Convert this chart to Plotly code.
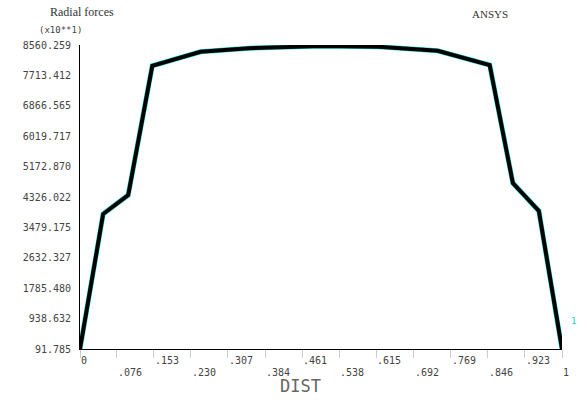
import plotly.graph_objects as go

# Radial force distribution along the path
dist = [0.0, 0.048, 0.100, 0.150, 0.250, 0.350, 0.500, 0.620, 0.742, 0.850, 0.898, 0.952, 1.0]
force = [91.785, 3852, 4380, 7980, 8370, 8470, 8530, 8510, 8400, 8000, 4716, 3937, 91.785]

x_ticks = [0, 0.076, 0.153, 0.230, 0.307, 0.384, 0.461, 0.538, 0.615, 0.692, 0.769, 0.846, 0.923, 1]
x_tick_text = ["0", ".076", ".153", ".230", ".307", ".384", ".461", ".538", ".615",
               ".692", ".769", ".846", ".923", "1"]
y_tick_text = ["91.785", "938.632", "1785.480", "2632.327", "3479.175", "4326.022",
               "5172.870", "6019.717", "6866.565", "7713.412", "8560.259"]
y_ticks = [float(t) for t in y_tick_text]

label_font = dict(family="DejaVu Sans Mono", size=10, color="#444444")

W, H = 587, 400
L, R, T, B = 80, 25, 45, 51
pw, ph = W - L - R, H - T - B


def px(xp):
    return (xp - L) / pw


def py(yp):
    return (H - B - yp) / ph


fig = go.Figure()
# faint cyan trace underneath the main curve
fig.add_trace(go.Scatter(x=dist, y=force, mode="lines",
                         line=dict(color="#22dddd", width=5), hoverinfo="skip"))
fig.add_trace(go.Scatter(x=dist, y=force, mode="lines",
                         line=dict(color="black", width=4)))

fig.update_xaxes(range=[0, 1], showgrid=False, zeroline=False,
                 showline=True, linecolor="black", linewidth=1,
                 tickvals=x_ticks, ticks="outside", ticklen=8, tickcolor="#cccccc",
                 showticklabels=False)
fig.update_yaxes(range=[y_ticks[0], y_ticks[-1]], showgrid=False, zeroline=False,
                 showline=True, linecolor="black", linewidth=1,
                 tickvals=y_ticks, ticktext=y_tick_text, ticks="",
                 tickfont=label_font, ticklabelstandoff=6)

annotations = []
for i, (v, t) in enumerate(zip(x_ticks, x_tick_text)):
    annotations.append(dict(x=v, y=0, xref="x", yref="paper", text=t,
                            showarrow=False, xanchor="left", yanchor="top",
                            yshift=-4 if i % 2 == 0 else -16, xshift=-1,
                            font=label_font))
annotations += [
    dict(x=px(300), y=py(386), xref="paper", yref="paper", text="DIST", showarrow=False,
         xanchor="center", yanchor="middle",
         font=dict(family="DejaVu Sans Mono", size=17, color="#666666")),
    dict(x=px(82), y=py(12), xref="paper", yref="paper", text="Radial forces",
         showarrow=False, xanchor="center", yanchor="middle",
         font=dict(family="Liberation Serif", size=12, color="#333333")),
    dict(x=px(490), y=py(14), xref="paper", yref="paper", text="ANSYS",
         showarrow=False, xanchor="center", yanchor="middle",
         font=dict(family="Liberation Serif", size=11, color="#333333")),
    dict(x=px(60), y=py(30), xref="paper", yref="paper", text="(x10**1)",
         showarrow=False, xanchor="center", yanchor="middle",
         font=dict(family="DejaVu Sans Mono", size=9, color="#444444")),
    dict(x=px(573), y=py(321), xref="paper", yref="paper", text="1",
         showarrow=False, xanchor="center", yanchor="middle",
         font=dict(family="DejaVu Sans Mono", size=9, color="#22cccc")),
]

fig.update_layout(width=W, height=H, margin=dict(l=L, r=R, t=T, b=B),
                  plot_bgcolor="white", paper_bgcolor="white",
                  showlegend=False, annotations=annotations)

fig.write_html("out.html")
